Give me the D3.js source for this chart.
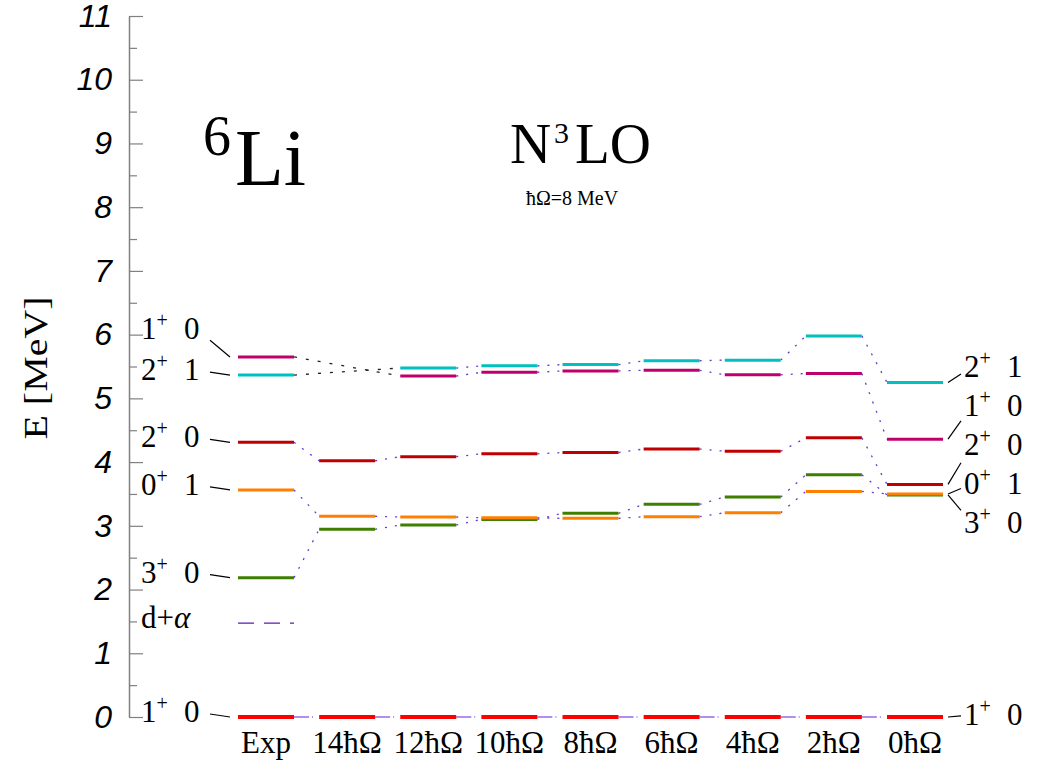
<!DOCTYPE html>
<html><head><meta charset="utf-8">
<script src="https://cdn.jsdelivr.net/npm/d3@7"></script>
<style>
body{margin:0;background:#fff}
svg{display:block}
</style></head><body>
<svg id="chart" width="1038" height="770"></svg>
<script>
// Calculation columns: experiment, then N_max truncations
const columns = ["Exp", "14ħΩ", "12ħΩ", "10ħΩ", "8ħΩ", "6ħΩ", "4ħΩ", "2ħΩ", "0ħΩ"];
const yTicks = [0, 1, 2, 3, 4, 5, 6, 7, 8, 9, 10, 11];
const yMinorTicks = [0.5, 1.5, 2.5, 3.5, 4.5, 5.5, 6.5, 7.5, 8.5, 9.5, 10.5];

// Excitation energies in MeV, one per column (null = level not given)
const e1p0Ground = [0, 0, 0, 0, 0, 0, 0, 0, 0];
const e3p0 = [2.186, 2.945, 3.013, 3.100, 3.196, 3.337, 3.452, 3.800, 3.485];
const e0p1 = [3.563, 3.150, 3.138, 3.127, 3.117, 3.143, 3.206, 3.540, 3.500];
const e2p0 = [4.310, 4.020, 4.085, 4.130, 4.150, 4.205, 4.170, 4.380, 3.650];
const e2p1 = [5.366, null, 5.476, 5.510, 5.530, 5.590, 5.600, 5.980, 5.250];
const e1p0 = [5.650, null, 5.350, 5.410, 5.430, 5.440, 5.370, 5.390, 4.360];
const dAlphaThreshold = 1.474;

// State quantum numbers J^pi and T
const stateJ = ["1", "3", "0", "2", "2", "1"];
const stateT = ["0", "0", "1", "0", "1", "0"];
const stateValues = [e1p0Ground, e3p0, e0p1, e2p0, e2p1, e1p0];
const stateColors = ["#ff0000", "#3f7f00", "#ff8000", "#c00000", "#00c0c0", "#c0006a"];

const states = stateValues.map((v, i) => ({
  J: stateJ[i], T: stateT[i], values: v, color: stateColors[i], ground: i === 0
}));

const svg = d3.select("#chart");
const serif = "'Liberation Serif', 'DejaVu Serif', serif";
const sans = "'Liberation Sans', Arial, sans-serif";

const x = d3.scalePoint().domain(columns).range([266, 915]);
const y = d3.scaleLinear().domain([0, 11]).range([717, 16]);
const half = 28;

// ---- axis ----
const axisX = 129;
const axisG = svg.append("g").attr("transform", `translate(${axisX},0)`)
  .call(d3.axisLeft(y).tickValues(yTicks).tickSize(-14).tickSizeOuter(0).tickPadding(17)
    .tickFormat(d3.format("d")));
axisG.select(".domain").attr("stroke", "#808080").attr("stroke-width", 1.5);
axisG.selectAll(".tick line").attr("stroke", "#808080").attr("stroke-width", 1.2);
axisG.selectAll(".tick text").attr("font-family", sans).attr("font-style", "italic")
  .attr("font-size", 32).attr("fill", "#000");

const minorG = svg.append("g").attr("transform", `translate(${axisX},0)`)
  .call(d3.axisLeft(y).tickValues(yMinorTicks).tickSize(-8).tickSizeOuter(0).tickFormat(""));
minorG.select(".domain").remove();
minorG.selectAll(".tick line").attr("stroke", "#808080").attr("stroke-width", 1.2);

svg.append("text")
  .attr("transform", "translate(47,368) rotate(-90)")
  .attr("text-anchor", "middle")
  .attr("font-family", serif).attr("font-size", 33)
  .attr("textLength", 143).attr("lengthAdjust", "spacingAndGlyphs")
  .text("E [MeV]");

// ---- connectors between neighbouring columns ----
const connG = svg.append("g");
states.forEach(s => {
  let prev = null;
  s.values.forEach((v, i) => {
    if (v === null) return;
    if (prev !== null) {
      const skip = i - prev > 1;
      connG.append("line")
        .attr("x1", x(columns[prev]) + half).attr("y1", y(s.values[prev]))
        .attr("x2", x(columns[i]) - half).attr("y2", y(v))
        .attr("stroke", skip ? "#222" : (s.ground ? "#9a6ae6" : "#6a38d0"))
        .attr("stroke-width", s.ground ? 1.4 : 1.3)
        .attr("stroke-dasharray", s.ground ? "15,3,1,100" : (skip ? "3,9" : "2,8"));
    }
    prev = i;
  });
});

// d+alpha threshold
svg.append("line")
  .attr("x1", x("Exp") - half).attr("x2", x("Exp") + half)
  .attr("y1", y(dAlphaThreshold)).attr("y2", y(dAlphaThreshold))
  .attr("stroke", "#5a1ab4").attr("stroke-width", 1.3)
  .attr("stroke-dasharray", "16,10");

// ---- level bars ----
const drawOrder = [0, 1, 2, 3, 5, 4];
drawOrder.forEach(k => {
  const s = states[k];
  svg.append("g").selectAll("line")
    .data(s.values.map((v, i) => ({v, c: columns[i]})).filter(d => d.v !== null))
    .join("line")
    .attr("x1", d => x(d.c) - half).attr("x2", d => x(d.c) + half)
    .attr("y1", d => y(d.v)).attr("y2", d => y(d.v))
    .attr("stroke", s.color)
    .attr("stroke-width", s.ground ? 4 : 3);
});

// ---- level labels ----
const labelFont = 31;
function drawLabel(xJ, baseline, s) {
  const t = svg.append("text").attr("x", xJ).attr("y", baseline)
    .attr("font-family", serif).attr("font-size", labelFont);
  t.append("tspan").text(s.J);
  t.append("tspan").attr("font-size", 20).attr("dy", -12).text("+");
  svg.append("text").attr("x", xJ + 43).attr("y", baseline)
    .attr("font-family", serif).attr("font-size", labelFont).text(s.T);
}

// left side: experimental levels, pushed apart from the bottom up
const expIdx = x.domain().indexOf("Exp");
const leftItems = states.map(s => ({s, ly: y(s.values[expIdx])}))
  .concat([{dAlpha: true, ly: y(dAlphaThreshold)}])
  .sort((a, b) => b.ly - a.ly);
let lastBase = Infinity;
leftItems.forEach(it => {
  it.base = Math.min(it.ly + 5, lastBase - 41);
  lastBase = it.base;
});
leftItems.forEach(it => {
  if (it.dAlpha) {
    const t = svg.append("text").attr("x", 141).attr("y", it.base)
      .attr("font-family", serif).attr("font-size", labelFont);
    t.append("tspan").text("d+");
    t.append("tspan").attr("font-style", "italic").text("α");
    return;
  }
  drawLabel(141, it.base, it.s);
  const center = it.base - 10;
  svg.append("line")
    .attr("x1", 210).attr("y1", it.ly + (center - it.ly) * 0.6)
    .attr("x2", x("Exp") - half - 8).attr("y2", it.ly)
    .attr("stroke", "#000").attr("stroke-width", 1.2);
});

// right side: 0ħΩ levels, spread evenly around their mean
const lastIdx = columns.length - 1;
const rightItems = states.map(s => ({s, ly: y(s.values[lastIdx])}))
  .sort((a, b) => a.ly - b.ly);
const ground = rightItems.filter(d => d.s.ground);
const excited = rightItems.filter(d => !d.s.ground);
const meanY = d3.mean(excited, d => d.ly);
const gap = 39;
excited.forEach((d, i) => {
  d.center = meanY - 14 + (i - (excited.length - 1) / 2) * gap;
});
ground.forEach(d => { d.center = d.ly - 2; });
const xEnd = x(columns[lastIdx]) + half;
excited.concat(ground).forEach(d => {
  drawLabel(964, d.center + 10, d.s);
  svg.append("line")
    .attr("x1", xEnd + 5).attr("y1", d.ly)
    .attr("x2", xEnd + 18).attr("y2", d.ly + (d.center - d.ly) * 0.55)
    .attr("stroke", "#000").attr("stroke-width", 1.2);
});

// ---- column labels ----
svg.append("g").selectAll("text").data(columns).join("text")
  .attr("x", d => x(d)).attr("y", 753)
  .attr("text-anchor", "middle")
  .attr("font-family", serif).attr("font-size", 31)
  .text(d => d);

// ---- titles ----
svg.append("text").attr("x", 203).attr("y", 155)
  .attr("font-family", serif).attr("font-size", 56).text("6");
svg.append("text").attr("x", 235).attr("y", 185)
  .attr("font-family", serif).attr("font-size", 80).text("Li");

svg.append("text").attr("x", 510).attr("y", 163)
  .attr("font-family", serif).attr("font-size", 57).text("N");
svg.append("text").attr("x", 554).attr("y", 143)
  .attr("font-family", serif).attr("font-size", 30).text("3");
svg.append("text").attr("x", 575).attr("y", 163)
  .attr("font-family", serif).attr("font-size", 57).text("LO");
svg.append("text").attr("x", 572).attr("y", 205)
  .attr("text-anchor", "middle")
  .attr("font-family", serif).attr("font-size", 20).text("ħΩ=8 MeV");
</script>
</body></html>
